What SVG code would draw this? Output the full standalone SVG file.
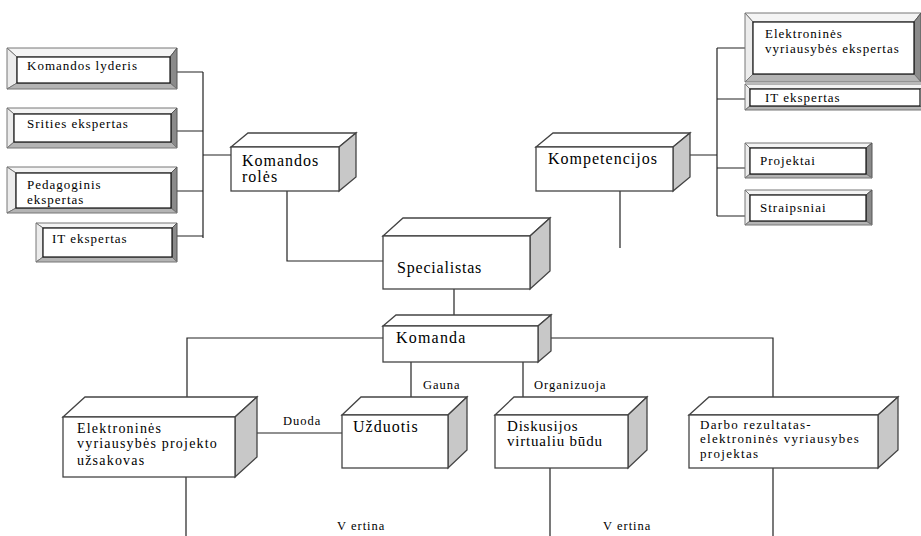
<svg xmlns="http://www.w3.org/2000/svg" width="921" height="536" viewBox="0 0 921 536" font-family="'Liberation Serif', 'DejaVu Serif', serif">
<style>
.bg{fill:#fff}
.bt{fill:#f4f4f4;stroke:#777;stroke-width:1}
.bl{fill:#ececec;stroke:#777;stroke-width:1}
.br{fill:#8a8a8a;stroke:#555;stroke-width:1}
.bb{fill:#b4b4b4;stroke:#777;stroke-width:1}
.bi{fill:#fff;stroke:#111;stroke-width:1.2}
.ff{fill:#fff;stroke:#444;stroke-width:1.3}
.ft{fill:#fff;stroke:#444;stroke-width:1.3}
.fs{fill:#c8c8c8;stroke:#444;stroke-width:1.3}
.c{fill:none;stroke:#222;stroke-width:1.2}
text{font-family:"Liberation Serif","DejaVu Serif",serif;fill:#000}
.t13{font-size:13px;letter-spacing:1px}
.t14{font-size:14px;letter-spacing:1.2px}
.t15{font-size:15px;letter-spacing:0.8px}
.t16{font-size:16px;letter-spacing:1px}
.lb{font-size:12.5px;letter-spacing:1px}
</style>
<rect class="bg" x="0" y="0" width="921" height="536"/>

<g id="connectors">
  <path class="c" d="M177,72H203M177,131H203M177,191H203M177,236H203M203,72V238M203,155H231"/>
  <path class="c" d="M287,191V261H383"/>
  <path class="c" d="M620,191V248"/>
  <path class="c" d="M689,155H717M717,48V216M717,48H745M717,99H745M717,168H745M717,216H745"/>
  <path class="c" d="M454,289V315"/>
  <path class="c" d="M383,338H187V397"/>
  <path class="c" d="M551,338H773V397"/>
  <path class="c" d="M411,362V401"/>
  <path class="c" d="M523,362V397"/>
  <path class="c" d="M257,433H342"/>
  <path class="c" d="M186,477V536M550,468V536M773,468V536"/>
  <text class="lb" x="423" y="389">Gauna</text>
  <text class="lb" x="534" y="389">Organizuoja</text>
  <text class="lb" x="283" y="425">Duoda</text>
  <text class="lb" x="337" y="530">V ertina</text>
  <text class="lb" x="603" y="530">V ertina</text>
</g>

<g id="komandos-lyderis">
  <polygon class="bt" points="7,48 177,48 170,57 17,57"/>
  <polygon class="bl" points="7,48 17,57 17,83 7,89"/>
  <polygon class="br" points="177,48 177,89 170,83 170,57"/>
  <polygon class="bb" points="7,89 17,83 170,83 177,89"/>
  <rect class="bi" x="17" y="57" width="153" height="26"/>
  <text class="t13" x="27" y="70">Komandos lyderis</text>
</g>
<g id="srities-ekspertas">
  <polygon class="bt" points="7,108 177,108 171,114 14,114"/>
  <polygon class="bl" points="7,108 14,114 14,142 7,148"/>
  <polygon class="br" points="177,108 177,148 171,142 171,114"/>
  <polygon class="bb" points="7,148 14,142 171,142 177,148"/>
  <rect class="bi" x="14" y="114" width="157" height="28"/>
  <text class="t13" x="27" y="128">Srities ekspertas</text>
</g>
<g id="pedagoginis-ekspertas">
  <polygon class="bt" points="7,167 177,167 171,173 16,173"/>
  <polygon class="bl" points="7,167 16,173 16,208 7,213"/>
  <polygon class="br" points="177,167 177,213 171,208 171,173"/>
  <polygon class="bb" points="7,213 16,208 171,208 177,213"/>
  <rect class="bi" x="16" y="173" width="155" height="35"/>
  <text class="t13" x="27" y="189">Pedagoginis</text>
  <text class="t13" x="27" y="204">ekspertas</text>
</g>
<g id="it-ekspertas-kaire">
  <polygon class="bt" points="36,223 177,223 172,228 43,228"/>
  <polygon class="bl" points="36,223 43,228 43,257 36,262"/>
  <polygon class="br" points="177,223 177,262 172,257 172,228"/>
  <polygon class="bb" points="36,262 43,257 172,257 177,262"/>
  <rect class="bi" x="43" y="228" width="129" height="29"/>
  <text class="t13" x="52" y="243">IT ekspertas</text>
</g>

<g id="elektronines-ekspertas">
  <polygon class="bt" points="745,13 921,13 914,22 753,22"/>
  <polygon class="bl" points="745,13 753,22 753,74 745,82"/>
  <polygon class="br" points="921,13 921,82 914,74 914,22"/>
  <polygon class="bb" points="745,82 753,74 914,74 921,82"/>
  <rect class="bi" x="753" y="22" width="161" height="52"/>
  <text class="t13" x="765" y="38">Elektroninės</text>
  <text class="t13" x="765" y="53">vyriausybės ekspertas</text>
</g>
<g id="it-ekspertas-desine">
  <polygon class="bt" points="745,84 925,84 920,89 750,89"/>
  <polygon class="bl" points="745,84 750,89 750,106 745,110"/>
  <polygon class="bb" points="745,110 750,106 920,106 925,110"/>
  <rect class="bi" x="750" y="89" width="170" height="17"/>
  <text class="t13" x="765" y="102">IT ekspertas</text>
</g>
<g id="projektai">
  <polygon class="bt" points="745,143 872,143 866,148 750,148"/>
  <polygon class="bl" points="745,143 750,148 750,174 745,178"/>
  <polygon class="br" points="872,143 872,178 866,174 866,148"/>
  <polygon class="bb" points="745,178 750,174 866,174 872,178"/>
  <rect class="bi" x="750" y="148" width="116" height="26"/>
  <text class="t13" x="760" y="165">Projektai</text>
</g>
<g id="straipsniai">
  <polygon class="bt" points="745,190 872,190 866,195 750,195"/>
  <polygon class="bl" points="745,190 750,195 750,221 745,225"/>
  <polygon class="br" points="872,190 872,225 866,221 866,195"/>
  <polygon class="bb" points="745,225 750,221 866,221 872,225"/>
  <rect class="bi" x="750" y="195" width="116" height="26"/>
  <text class="t13" x="760" y="212">Straipsniai</text>
</g>

<g id="komandos-roles">
  <polygon class="ft" points="231,147 248,133 356,133 339,147"/>
  <polygon class="fs" points="339,147 356,133 356,177 339,191"/>
  <rect class="ff" x="231" y="147" width="108" height="44"/>
  <text class="t16" x="242" y="166">Komandos</text>
  <text class="t16" x="242" y="182">rolės</text>
</g>
<g id="kompetencijos">
  <polygon class="ft" points="536,147 553,133 690,133 673,147"/>
  <polygon class="fs" points="673,147 690,133 690,177 673,191"/>
  <rect class="ff" x="536" y="147" width="137" height="44"/>
  <text class="t16" x="548" y="164">Kompetencijos</text>
</g>
<g id="specialistas">
  <polygon class="ft" points="383,236 403,218 550,218 530,236"/>
  <polygon class="fs" points="530,236 550,218 550,271 530,289"/>
  <rect class="ff" x="383" y="236" width="147" height="53"/>
  <text class="t16" x="397" y="273" style="letter-spacing:0.8px">Specialistas</text>
</g>
<g id="komanda">
  <polygon class="ft" points="383,326 396,315 551,315 538,326"/>
  <polygon class="fs" points="538,326 551,315 551,351 538,362"/>
  <rect class="ff" x="383" y="326" width="155" height="36"/>
  <text class="t16" x="396" y="343" style="letter-spacing:1.2px">Komanda</text>
</g>
<g id="uzsakovas">
  <polygon class="ft" points="63,417 85,397 257,397 235,417"/>
  <polygon class="fs" points="235,417 257,397 257,457 235,477"/>
  <rect class="ff" x="63" y="417" width="172" height="60"/>
  <text class="t14" x="77" y="433">Elektroninės</text>
  <text class="t14" x="77" y="448">vyriausybės projekto</text>
  <text class="t14" x="77" y="465">užsakovas</text>
</g>
<g id="uzduotis">
  <polygon class="ft" points="342,415 361,397 467,397 448,415"/>
  <polygon class="fs" points="448,415 467,397 467,450 448,468"/>
  <rect class="ff" x="342" y="415" width="106" height="53"/>
  <text class="t16" x="353" y="432">Užduotis</text>
</g>
<g id="diskusijos">
  <polygon class="ft" points="495,415 514,397 647,397 628,415"/>
  <polygon class="fs" points="628,415 647,397 647,450 628,468"/>
  <rect class="ff" x="495" y="415" width="133" height="53"/>
  <text class="t15" x="507" y="431">Diskusijos</text>
  <text class="t15" x="507" y="446">virtualiu būdu</text>
</g>
<g id="darbo-rezultatas">
  <polygon class="ft" points="689,415 709,397 898,397 878,415"/>
  <polygon class="fs" points="878,415 898,397 898,450 878,468"/>
  <rect class="ff" x="689" y="415" width="189" height="53"/>
  <text class="t13" x="700" y="429" style="letter-spacing:1.3px">Darbo rezultatas-</text>
  <text class="t13" x="700" y="443" style="letter-spacing:1.3px">elektroninės vyriausybes</text>
  <text class="t13" x="700" y="458" style="letter-spacing:1.3px">projektas</text>
</g>
</svg>
